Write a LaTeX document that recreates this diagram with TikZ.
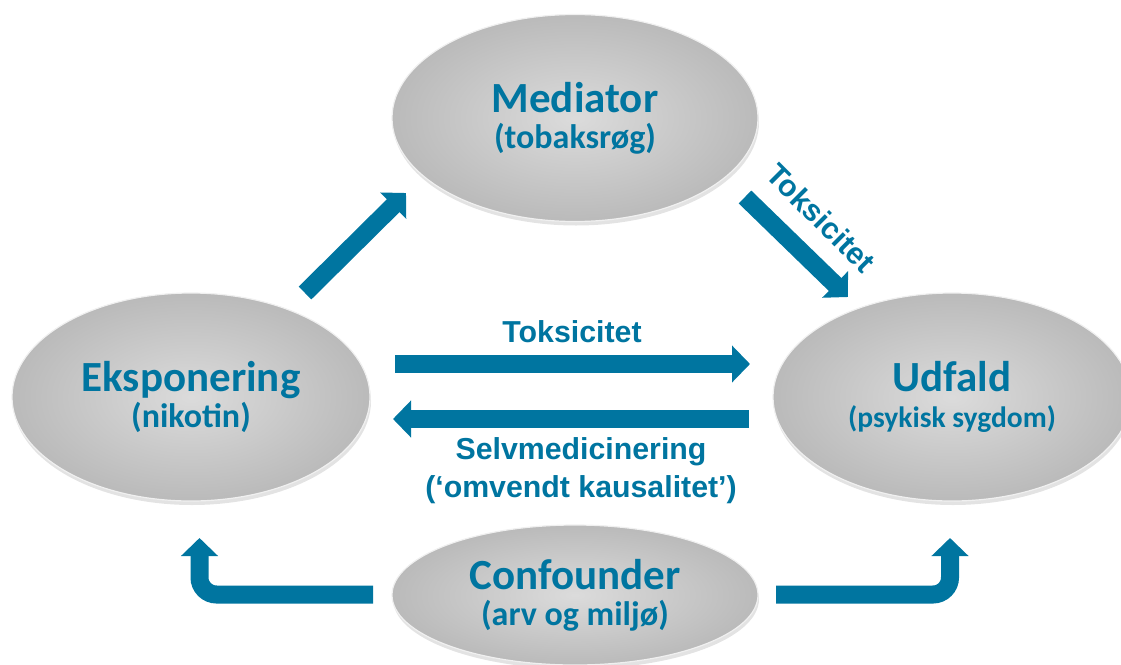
\documentclass[tikz,border=0pt]{standalone}
\usepackage{fontspec}
\usetikzlibrary{shapes.geometric,arrows.meta,shadows}
\newfontfamily\bagfont{Carlito}
\newfontfamily\tagfont{Liberation Sans}
\definecolor{petrol}{RGB}{0,117,160}
\tikzstyle{bag} = [ellipse, inner sep=0pt, shade, inner color=black!14, outer color=black!27,
  draw=black!6, line width=1.2pt, drop shadow={shadow xshift=1pt, shadow yshift=-4pt, opacity=0.22},
  text=petrol, align=center, font=\bagfont\bfseries\fontsize{34}{36}\selectfont]
\tikzstyle{tag} = [text=petrol, align=center, font=\tagfont\bfseries\fontsize{30.3}{38}\selectfont]
\tikzstyle{conn} = [draw=petrol, line width=18pt, -{Triangle[length=18pt,width=36pt]}]
\newcommand\bagtitle[1]{{\fontsize{43}{36}\selectfont #1}}

\begin{document}
\begin{tikzpicture}[x=1pt,y=-1pt]
  \useasboundingbox (0,0) rectangle (1121,664);
  \node (med) at (575,118) [bag, minimum width=366pt, minimum height=207pt] {\bagtitle{Mediator}\\(tobaksrøg)};
  \node (eks) at (191,397) [bag, minimum width=358pt, minimum height=208pt] {\bagtitle{Eksponering}\\(nikotin)};
  \node (udf) at (952,397) [bag, minimum width=358pt, minimum height=208pt] {\bagtitle{Udfald}\\{\fontsize{29.5}{36}\selectfont (psykisk sygdom)}};
  \node (conf) at (575,595) [bag, minimum width=366pt, minimum height=140pt] {\bagtitle{Confounder}\\(arv og miljø)};
  % arrow ends
  \coordinate (eks-out) at (305,293);
  \coordinate (med-in) at (406,193);
  \coordinate (med-out) at (745,197);
  \coordinate (udf-in) at (848,297);
  \coordinate (tox-from) at (395,364);
  \coordinate (tox-to) at (750,364);
  \coordinate (self-from) at (749,419);
  \coordinate (self-to) at (393,419);
  \coordinate (conf-left) at (373,594.5);
  \coordinate (eks-in) at (199.5,538);
  \coordinate (conf-right) at (776,594.5);
  \coordinate (udf-up) at (950,538);
  \draw [conn] (eks-out) -- (med-in);
  \draw [conn] (med-out) -- (udf-in);
  \draw [conn] (tox-from) -- (tox-to);
  \draw [conn] (self-from) -- (self-to);
  \draw [conn, rounded corners=17pt] (conf-left) -| (eks-in);
  \draw [conn, rounded corners=17pt] (conf-right) -| (udf-up);
  % arrow texts
  \node (tox-a) at (572,332) [tag] {Toksicitet};
  \node (tox-b) at (821,218) [tag, rotate=-45] {Toksicitet};
  \node (self) at (581,471) [tag] {Selvmedicinering\\(‘omvendt kausalitet’)};
\end{tikzpicture}
\end{document}
